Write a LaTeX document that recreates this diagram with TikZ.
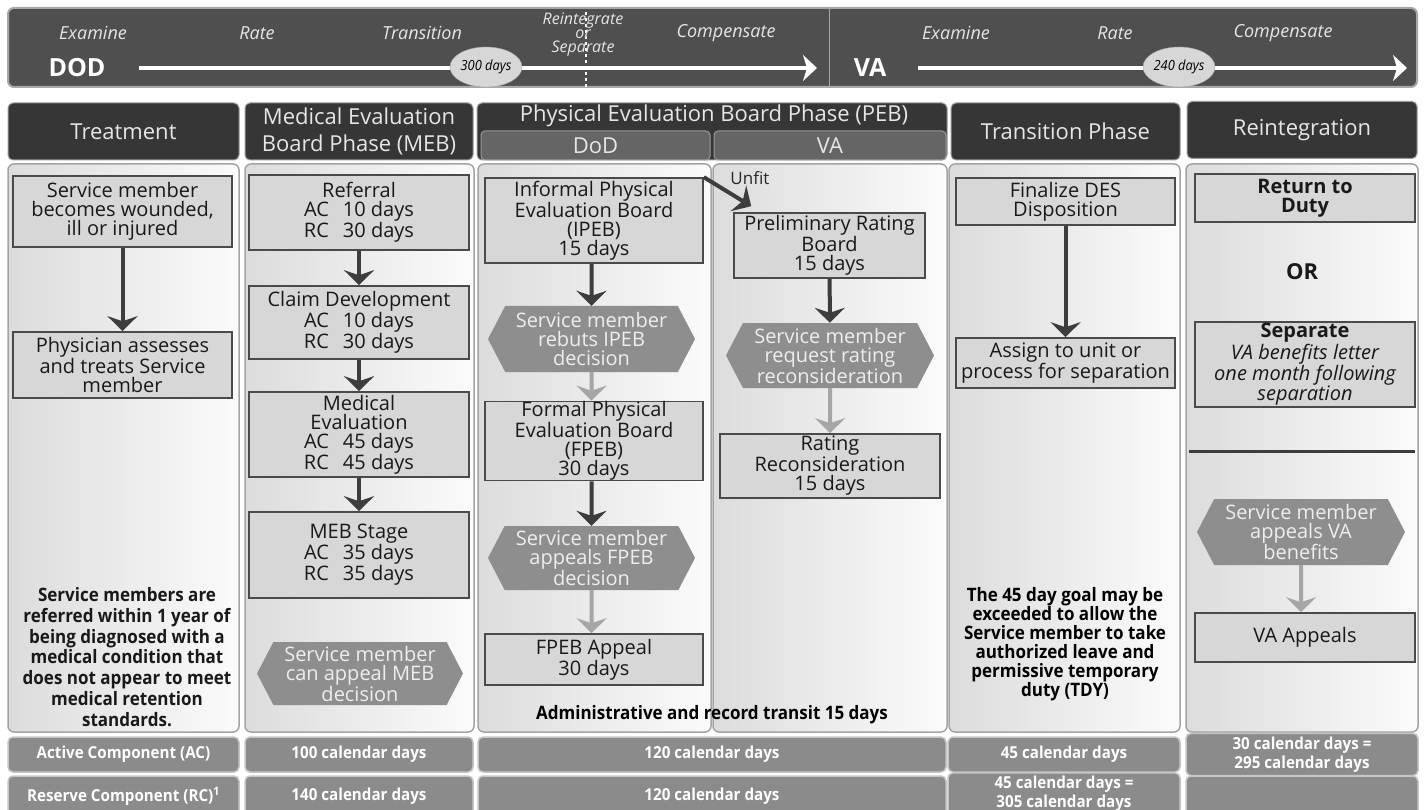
\documentclass[tikz,border=0pt]{standalone}
\usepackage{fontspec}
\setmainfont{Open Sans}
\newfontfamily\condfont[FakeStretch=0.92]{Open Sans}
\usetikzlibrary{arrows.meta,shapes.geometric,shapes.symbols}

\definecolor{bannerfill}{HTML}{4F4F4F}
\definecolor{bannerline}{HTML}{A8A8A8}
\definecolor{bannertext}{HTML}{E6E6E6}
\definecolor{headfill}{HTML}{363636}
\definecolor{headline}{HTML}{9A9A9A}
\definecolor{subfill}{HTML}{656565}
\definecolor{boxfill}{HTML}{D7D7D7}
\definecolor{boxline}{HTML}{4A4A4A}
\definecolor{hexfill}{HTML}{8E8E8E}
\definecolor{hextext}{HTML}{EEEEEE}
\definecolor{arrowdark}{HTML}{3D3D3D}
\definecolor{arrowlight}{HTML}{A6A6A6}
\definecolor{rowfill}{HTML}{8B8B8B}
\definecolor{rowline}{HTML}{C6C6C6}
\definecolor{panelline}{HTML}{A4A4A4}
\definecolor{panelleft}{HTML}{DCDCDC}
\definecolor{panelright}{HTML}{FBFBFB}

\newcommand{\boxfont}{\fontsize{20}{19}\selectfont}
\newcommand{\headfont}{\fontsize{22}{27}\selectfont}
\newcommand{\notefont}{\condfont\bfseries\fontsize{18.5}{20.8}\selectfont}
\newcommand{\rowfont}{\condfont\bfseries\fontsize{16.5}{19}\selectfont}

\tikzset{
  stepbox/.style={draw=boxline, fill=boxfill, line width=1.6pt, font=\boxfont,
    align=center, inner sep=0pt, text=black!90},
  hexa/.style={shape=signal, signal to=east and west, signal pointer angle=125,
    fill=hexfill, text=hextext, font=\boxfont, align=center, inner sep=0pt},
  phasehead/.style={draw=headline, fill=headfill, rounded corners=5pt, line width=1pt,
    text=bannertext, font=\headfont, align=center, minimum height=57},
  subhead/.style={draw=headline, fill=subfill, rounded corners=4pt, line width=1pt,
    text=bannertext, font=\headfont, minimum height=29},
  rowcell/.style={draw=rowline, fill=rowfill, rounded corners=5pt, line width=1.5pt,
    text=white, font=\rowfont, align=center},
  panel/.style={draw=panelline, line width=1.5pt, left color=panelleft,
    right color=panelright, rounded corners=6pt},
  darrow/.style={draw=arrowdark, line width=4pt, -{Stealth[length=15pt, width=30pt, inset=5pt]}},
  larrow/.style={draw=arrowlight, line width=4pt, -{Stealth[length=15pt, width=30pt, inset=5pt]}},
  toparrow/.style={draw=white, line width=3.5pt, -{Stealth[length=14pt, width=26pt, inset=4pt]}},
  steplabel/.style={text=bannertext, font=\fontsize{18}{13}\selectfont\itshape, align=center},
  dayspot/.style={ellipse, fill=boxfill, draw=bannerline, minimum width=72, minimum height=40,
    inner sep=0pt, font=\condfont\itshape\fontsize{14}{14}\selectfont}
}

\begin{document}
\begin{tikzpicture}[x=1pt,y=-1pt]
  \useasboundingbox (0,0) rectangle (1424,810);
  \clip (0,0) rectangle (1424,810);
  \fill[white] (0,0) rectangle (1424,810);

  %Top banner
  \draw[bannerline, fill=bannerfill, line width=2pt, rounded corners=6pt] (8,8) rectangle (1417,87);
  \draw[bannerline, line width=1pt] (829,8) -- (829,87);
  \coordinate (dashtop) at (586,12);
  \coordinate (dashbot) at (586,87);
  \draw[white, line width=1.2pt, dash pattern=on 3pt off 3pt] (dashtop) -- (dashbot);

  \node[steplabel] (dexam) at (93,33) {Examine};
  \node[steplabel] (drate) at (257,33) {Rate};
  \node[steplabel] (dtrans) at (422,33) {Transition};
  \node[steplabel, font=\fontsize{16}{14}\selectfont\itshape] (dreint) at (583,35) {Reintegrate\\or\\Separate};
  \node[steplabel] (dcomp) at (726,33) {Compensate};
  \node[steplabel] (vexam) at (956,33) {Examine};
  \node[steplabel] (vrate) at (1115,33) {Rate};
  \node[steplabel] (vcomp) at (1283,33) {Compensate};

  \node[text=white, font=\bfseries\fontsize{25}{25}\selectfont] (dod) at (77,68) {DOD};
  \coordinate (dodend) at (817,68);
  \draw[toparrow] ([xshift=30pt]dod.east) -- (dodend);
  \node[dayspot] (dod300) at (486,67) {300 days};

  \node[text=white, font=\bfseries\fontsize{25}{25}\selectfont] (va) at (870,68) {VA};
  \coordinate (vaend) at (1407,68);
  \draw[toparrow] ([xshift=28pt]va.east) -- (vaend);
  \node[dayspot] (va240) at (1179,67) {240 days};

  %Phase headers
  \node[phasehead, minimum width=231] (treathead) at (123.5,131.5) {Treatment};
  \node[phasehead, minimum width=228] (mebhead) at (359,131.5) {Medical Evaluation\\Board Phase (MEB)};
  \node[phasehead, minimum width=470] (pebhead) at (712,131.5) {};
  \node[text=bannertext, font=\headfont] (pebtitle) at (714,116) {Physical Evaluation Board Phase (PEB)};
  \node[subhead, minimum width=229] (dodhead) at (595.5,145.5) {DoD};
  \node[subhead, minimum width=232] (vahead) at (830,145.5) {VA};
  \node[phasehead, minimum width=229] (transhead) at (1065.5,131.5) {Transition Phase};
  \node[phasehead, minimum width=230] (reinthead) at (1302,130) {Reintegration};

  %Panels
  \path[panel] (8,164) rectangle (239,732);
  \path[panel] (245,164) rectangle (474,732);
  \path[panel] (478,164) rectangle (711,732);
  \path[panel] (713,164) rectangle (947,732);
  \path[panel] (949,164) rectangle (1180,732);
  \path[panel] (1186,164) rectangle (1418,732);

  %Treatment
  \node[stepbox, minimum width=219, minimum height=71] (hurt) at (122.5,211.5)
    {Service member\\becomes wounded,\\ill or injured};
  \node[stepbox, minimum width=219, minimum height=66] (treat) at (122.5,365)
    {Physician assesses\\and treats Service\\member};
  \draw[darrow] (hurt) -- (treat);
  \node[font=\notefont, text=black!90, align=center] (treatnote) at (127,657)
    {Service members are\\referred within 1 year of\\being diagnosed with a\\medical condition that\\does not appear to meet\\medical retention\\standards.};

  %Medical evaluation board
  \node[stepbox, minimum width=220, minimum height=75] (referral) at (359,212.5)
    {Referral\\AC\hspace{14pt}10 days\\RC\hspace{14pt}30 days};
  \node[stepbox, minimum width=220, minimum height=73] (claim) at (359,322.5)
    {Claim Development\\AC\hspace{14pt}10 days\\RC\hspace{14pt}30 days};
  \node[stepbox, minimum width=220, minimum height=85] (medeval) at (359,434.5)
    {Medical\\Evaluation\\AC\hspace{14pt}45 days\\RC\hspace{14pt}45 days};
  \node[stepbox, minimum width=220, minimum height=86] (mebstage) at (359,555)
    {MEB Stage\\AC\hspace{14pt}35 days\\RC\hspace{14pt}35 days};
  \node[hexa, minimum width=206, minimum height=63] (mebappeal) at (360,673.5)
    {Service member\\can appeal MEB\\decision};
  \draw[darrow] (referral) -- (claim);
  \draw[darrow] (claim) -- (medeval);
  \draw[darrow] (medeval) -- (mebstage);

  %Physical evaluation board - DoD
  \node[stepbox, minimum width=218, minimum height=85] (ipeb) at (594,220.5)
    {Informal Physical\\Evaluation Board\\(IPEB)\\15 days};
  \node[hexa, minimum width=207, minimum height=66] (rebut) at (591.5,339)
    {Service member\\rebuts IPEB\\decision};
  \node[stepbox, minimum width=218, minimum height=78] (fpeb) at (594,441)
    {Formal Physical\\Evaluation Board\\(FPEB)\\30 days};
  \node[hexa, minimum width=207, minimum height=64] (fpebhex) at (591.5,558)
    {Service member\\appeals FPEB\\decision};
  \node[stepbox, minimum width=218, minimum height=51] (fpebapp) at (594,659.5)
    {FPEB Appeal\\30 days};
  \draw[darrow] (ipeb.south -| rebut) -- (rebut);
  \draw[larrow] (rebut) -- (rebut.south |- fpeb.north);
  \draw[darrow] (fpeb.south -| fpebhex) -- (fpebhex);
  \draw[larrow] (fpebhex) -- (fpebhex.south |- fpebapp.north);
  \node[font=\notefont, text=black] (admin) at (712,715) {Administrative and record transit 15 days};

  %Physical evaluation board - VA
  \node[stepbox, minimum width=191, minimum height=65] (prb) at (829.5,245.5)
    {Preliminary Rating\\Board\\15 days};
  \node[hexa, minimum width=208, minimum height=65] (reqhex) at (830,355.5)
    {Service member\\request rating\\reconsideration};
  \node[stepbox, minimum width=220, minimum height=64] (ratrec) at (830,466)
    {Rating\\Reconsideration\\15 days};
  \draw[darrow] (ipeb.north east) -- ([xshift=18pt,yshift=6pt]prb.north west)
    node[pos=0.45, anchor=south west, font=\fontsize{17}{17}\selectfont, text=black!85] (unfit) {Unfit};
  \draw[darrow] (prb) -- (reqhex);
  \draw[larrow] (reqhex) -- (ratrec);

  %Transition
  \node[stepbox, minimum width=219, minimum height=47] (finalize) at (1065.5,201.5)
    {Finalize DES\\Disposition};
  \node[stepbox, minimum width=219, minimum height=50] (assign) at (1065.5,363)
    {Assign to unit or\\process for separation};
  \draw[darrow] (finalize) -- (assign);
  \node[font=\condfont\bfseries\fontsize{18.5}{19}\selectfont, text=black, align=center] (transnote) at (1065,644)
    {The 45 day goal may be\\exceeded to allow the\\Service member to take\\authorized leave and\\permissive temporary\\duty (TDY)};

  %Reintegration
  \node[stepbox, minimum width=220, minimum height=48] (rtd) at (1305,198)
    {\bfseries Return to\\\bfseries Duty};
  \node[font=\bfseries\fontsize{22}{22}\selectfont, text=black!90] (or) at (1302,272) {OR};
  \node[stepbox, minimum width=220, minimum height=85] (separate) at (1305,364.5)
    {\bfseries Separate\\\itshape VA benefits letter\\\itshape one month following\\\itshape separation};
  \draw[arrowdark, line width=3pt] (1189,451) -- (1415,451);
  \node[hexa, minimum width=208, minimum height=66] (vahex) at (1301,532)
    {Service member\\appeals VA\\benefits};
  \node[stepbox, minimum width=220, minimum height=49] (vaapp) at (1305,637.5) {VA Appeals};
  \draw[larrow] (vahex) -- (vahex.south |- vaapp.north);

  %Component rows
  \node[rowcell, minimum width=231, minimum height=35] (actreat) at (123.5,754.5) {Active Component (AC)};
  \node[rowcell, minimum width=228, minimum height=35] (acmeb) at (359,754.5) {100 calendar days};
  \node[rowcell, minimum width=468, minimum height=35] (acpeb) at (712,754.5) {120 calendar days};
  \node[rowcell, minimum width=232, minimum height=35] (actrans) at (1064,754.5) {45 calendar days};
  \node[rowcell, minimum width=232, minimum height=35] (acreint) at (1302,754.5)
    {30 calendar days =\\295 calendar days};
  \node[rowcell, minimum width=231, minimum height=40] (rctreat) at (123.5,796) {Reserve Component (RC)\textsuperscript{1}};
  \node[rowcell, minimum width=228, minimum height=40] (rcmeb) at (359,796) {140 calendar days};
  \node[rowcell, minimum width=468, minimum height=40] (rcpeb) at (712,796) {120 calendar days};
  \node[rowcell, minimum width=232, minimum height=40] (rctrans) at (1064,794)
    {45 calendar days =\\305 calendar days};
  \node[rowcell, minimum width=232, minimum height=40] (rcreint) at (1302,796) {};
\end{tikzpicture}
\end{document}
